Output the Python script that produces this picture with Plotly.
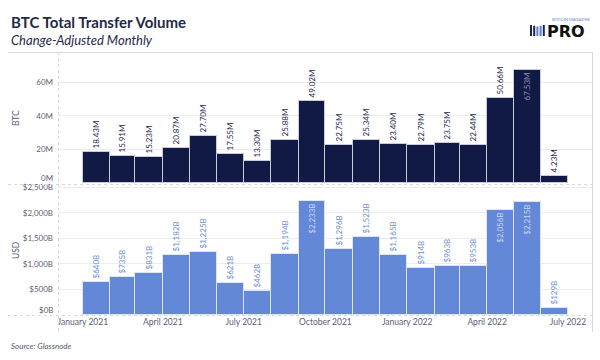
import plotly.graph_objects as go
import pandas as pd

# ---------------- data ----------------
months = ["2021-01", "2021-02", "2021-03", "2021-04", "2021-05", "2021-06",
          "2021-07", "2021-08", "2021-09", "2021-10", "2021-11", "2021-12",
          "2022-01", "2022-02", "2022-03", "2022-04", "2022-05", "2022-06"]
btc_m = [18.43, 15.91, 15.23, 20.87, 27.70, 17.55, 13.30, 25.88, 49.02,
         22.75, 25.34, 23.40, 22.79, 23.75, 22.44, 50.66, 67.53, 4.23]
usd_b = [640, 735, 831, 1182, 1225, 621, 462, 1194, 2233,
         1296, 1523, 1165, 914, 963, 953, 2056, 2215, 129]
btc_tick_vals = [0, 20, 40, 60]
btc_tick_text = ["0M", "20M", "40M", "60M"]
usd_tick_vals = [0, 500, 1000, 1500, 2000, 2500]
usd_tick_text = ["$0B", "$500B", "$1,000B", "$1,500B", "$2,000B", "$2,500B"]
x_tick_vals = ["2021-01-01", "2021-04-01", "2021-07-01", "2021-10-01",
               "2022-01-01", "2022-04-01", "2022-07-01"]
x_tick_text = ["January 2021", "April 2021", "July 2021", "October 2021",
               "January 2022", "April 2022", "July 2022"]

btc_labels = [f"{v:.2f}M" for v in btc_m]
usd_labels = [f"${v:,}B" for v in usd_b]
starts = [pd.Timestamp(m + "-01") for m in months]
widths = [pd.Period(m).days_in_month * 86400000 for m in months]

btc_pos = ["inside" if v > 60 else "outside" for v in btc_m]
usd_pos = ["inside" if v > 2000 else "outside" for v in usd_b]

# ---------------- geometry helpers ----------------
W, H = 600, 360
L, R, T, B = 58, 8, 52, 45
PW, PH = W - L - R, H - T - B


def px(x):
    return (x - L) / PW


def py(y):
    return (H - B - y) / PH


FONT = "Lato"
NAVY = "#111a45"
BLUE = "#6488d8"
GRID = "#ececec"
TICKC = "#5d6173"
LBL = 8
TK = 8

fig = go.Figure()

fig.add_trace(go.Bar(
    x=starts, y=btc_m, width=widths, offset=0,
    marker=dict(color=NAVY, line=dict(color="#c8ccd6", width=1)),
    text=btc_labels, textposition=btc_pos, textangle=-90,
    insidetextanchor="end", constraintext="none", cliponaxis=False,
    textfont=dict(size=LBL, family=FONT),
    outsidetextfont=dict(size=LBL, color="#1c2550", family=FONT),
    insidetextfont=dict(size=LBL, color="#8a93b3", family=FONT),
    hoverinfo="skip", xaxis="x", yaxis="y", showlegend=False,
))

fig.add_trace(go.Bar(
    x=starts, y=usd_b, width=widths, offset=0,
    marker=dict(color=BLUE, line=dict(color="#dfe5f3", width=1)),
    text=usd_labels, textposition=usd_pos, textangle=-90,
    insidetextanchor="end", constraintext="none", cliponaxis=False,
    textfont=dict(size=LBL, family=FONT),
    outsidetextfont=dict(size=LBL, color="#6f8fd6", family=FONT),
    insidetextfont=dict(size=LBL, color="#c9d6f2", family=FONT),
    hoverinfo="skip", xaxis="x", yaxis="y2", showlegend=False,
))

top_lo = py(183)
bot_hi = py(186)

# zero labels are drawn as annotations nudged up (Tableau-style), so blank them on the axis
btc_axis_text = ["" if v == 0 else t for v, t in zip(btc_tick_vals, btc_tick_text)]
usd_axis_text = ["" if v == 0 else t for v, t in zip(usd_tick_vals, usd_tick_text)]

fig.update_layout(
    width=W, height=H,
    margin=dict(l=L, r=R, t=T, b=B, autoexpand=False),
    paper_bgcolor="white", plot_bgcolor="white",
    bargap=0,
    font=dict(family=FONT, size=8, color=TICKC),
    xaxis=dict(
        type="date", anchor="y2", domain=[0, 1],
        range=["2020-12-04", "2022-07-28"],
        tickvals=x_tick_vals, ticktext=x_tick_text,
        showgrid=False, zeroline=False, showline=False, ticks="",
        automargin=False,
        tickfont=dict(size=8.5, color=TICKC, family=FONT),
    ),
    yaxis=dict(
        domain=[top_lo, 1], range=[0, 78],
        tickvals=btc_tick_vals, ticktext=btc_axis_text,
        showgrid=True, gridcolor=GRID, zeroline=False, showline=False,
        ticks="", ticklabelstandoff=4, automargin=False,
        tickfont=dict(size=TK, color=TICKC, family=FONT),
    ),
    yaxis2=dict(
        domain=[0, bot_hi], range=[0, 2525],
        tickvals=usd_tick_vals, ticktext=usd_axis_text,
        showgrid=True, gridcolor=GRID, zeroline=False, showline=False,
        ticks="", ticklabelstandoff=4, automargin=False,
        tickfont=dict(size=TK, color=TICKC, family=FONT),
    ),
)

# separator / frame lines
line_style = dict(color="#d9d9d9", width=1)
shapes = [
    dict(type="line", xref="paper", yref="paper", x0=px(8), x1=px(592), y0=py(52.5), y1=py(52.5), line=line_style),
    dict(type="line", xref="paper", yref="paper", x0=px(8), x1=px(592), y0=py(184.5), y1=py(184.5), line=dict(color="#d9d9d9", width=1, dash="dot")),
    dict(type="line", xref="paper", yref="paper", x0=px(8), x1=px(592), y0=py(315.5), y1=py(315.5), line=dict(color="#d9d9d9", width=1, dash="dot")),
    dict(type="line", xref="paper", yref="paper", x0=px(58.5), x1=px(58.5), y0=py(52), y1=py(332), line=dict(color="#d9d9d9", width=1, dash="dot")),
    dict(type="line", xref="paper", yref="paper", x0=px(592.5), x1=px(592.5), y0=py(52), y1=py(332), line=line_style),
]
# logo icon stripes
for i, c in enumerate(["#1a2450", "#1a2450", "#5b7fd0", "#5b7fd0", "#1a2450"]):
    x0 = 530 + i * 3.2
    shapes.append(dict(type="rect", xref="paper", yref="paper",
                       x0=px(x0), x1=px(x0 + 2.0), y0=py(36), y1=py(25 + (2 - abs(i - 2)) * 0.8),
                       line=dict(width=0), fillcolor=c))
fig.update_layout(shapes=shapes)

ann = [
    dict(text="<b>BTC Total Transfer Volume</b>", x=px(9), y=py(22), xanchor="left", yanchor="middle",
         font=dict(size=15, color="#1f2a48", family=FONT)),
    dict(text="<i>Change-Adjusted Monthly</i>", x=px(9), y=py(40), xanchor="left", yanchor="middle",
         font=dict(size=13, color="#1f2a48", family=FONT)),
    dict(text="<i>Source: Glassnode</i>", x=px(9), y=py(346), xanchor="left", yanchor="middle",
         font=dict(size=8, color="#555a6a", family=FONT)),
    dict(text="BTC", x=px(16), y=py(118), textangle=-90, xanchor="center", yanchor="middle",
         font=dict(size=8.5, color=TICKC, family=FONT)),
    dict(text="USD", x=px(16), y=py(250), textangle=-90, xanchor="center", yanchor="middle",
         font=dict(size=8.5, color=TICKC, family=FONT)),
    dict(text="<b>PRO</b>", x=px(546), y=py(31), xanchor="left", yanchor="middle",
         font=dict(size=16, color="#111111", family="DejaVu Sans"), borderpad=0),
    dict(text="BITCOIN MAGAZINE", x=px(551), y=py(19.5), xanchor="left", yanchor="middle",
         font=dict(size=4, color="#5b7fd0", family=FONT), borderpad=0),
]
for a in ann:
    a.update(xref="paper", yref="paper", showarrow=False)

# zero tick labels, lifted into the panel
ann.append(dict(text=btc_tick_text[btc_tick_vals.index(0)], xref="paper", yref="y", x=px(54), y=0,
                xanchor="right", yanchor="middle", yshift=5, showarrow=False, borderpad=0,
                font=dict(size=TK, color=TICKC, family=FONT)))
ann.append(dict(text=usd_tick_text[usd_tick_vals.index(0)], xref="paper", yref="y2", x=px(54), y=0,
                xanchor="right", yanchor="middle", yshift=5, showarrow=False, borderpad=0,
                font=dict(size=TK, color=TICKC, family=FONT)))
fig.update_layout(annotations=ann)

fig.write_html("out.html", config={"displayModeBar": False},
               post_script="document.body.style.margin='0';")
